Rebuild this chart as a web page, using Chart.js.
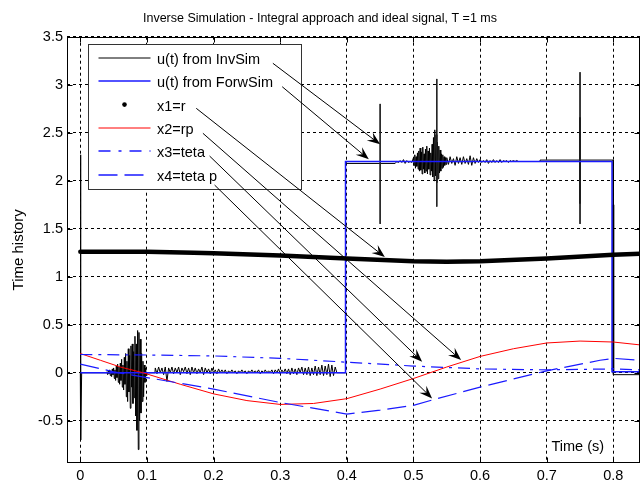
<!DOCTYPE html>
<html>
<head>
<meta charset="utf-8">
<script src="https://cdn.jsdelivr.net/npm/chart.js@4.4.0/dist/chart.umd.min.js"></script>
<style>
  html, body { margin: 0; padding: 0; background: #fff; }
  #wrap { width: 643px; height: 485px; }
</style>
</head>
<body>
<div id="wrap"><canvas id="c"></canvas></div>
<script>
// ---- ticks ----
const xTicks = [0, 0.1, 0.2, 0.3, 0.4, 0.5, 0.6, 0.7, 0.8];
const yTicks = [-0.5, 0, 0.5, 1, 1.5, 2, 2.5, 3, 3.5];

// ---- u(t) from ForwSim ----
const forwT = [0, 0.398, 0.398, 0.798, 0.798, 0.84];
const forwU = [0, 0, 2.2, 2.2, 0.01, 0.01];

// ---- u(t) from InvSim: опорные точки + шум с равным шагом ----
const invHeadT = [0, 0, 0.001, 0.002, 0.039];
const invHeadU = [0, 2.27, -0.7, 0, 0];

const burst1T0 = 0.04, burst1Dt = 0.001;
const burst1U = [
  0.01, -0.02, 0.02, -0.01, 0.03, -0.03, 0.02, -0.04, 0.04, -0.02,
  0.05, -0.06, 0.03, -0.08, 0.07, -0.05, 0.09, -0.10, 0.06, -0.12,
  0.10, -0.08, 0.14, -0.15, 0.08, -0.18, 0.16, -0.12, 0.20, -0.25,
  0.12, -0.30, 0.25, -0.20, 0.18, -0.37, 0.28, -0.15, 0.30, -0.32,
  0.22, -0.26, 0.38, -0.45, 0.30, -0.60, 0.44, -0.80, 0.42, -0.50,
  0.35, -0.42, 0.20, -0.30, 0.12, -0.25, 0.08, -0.10, 0.05, -0.03,
  0
];

const invGapT = [0.112];
const invGapU = [0];

const noise1T0 = 0.1125, noise1Dt = 0.0025;
const noise1U = [
  0.05, -0.01, 0.06, 0.00, 0.05, -0.02, 0.06, -0.09, 0.05, 0.00,
  0.06, -0.01, 0.05, 0.00, 0.06, -0.02, 0.05, 0.01, 0.06, -0.01,
  0.05, -0.02, 0.06, 0.00, 0.05, -0.01, 0.04, 0.00, 0.06, -0.02,
  0.05, 0.00, 0.04, -0.01, 0.05, 0.00, 0.03, -0.01, 0.04, 0.00,
  0.03, 0.00, 0.03, -0.01, 0.02, 0.00, 0.03, 0.00, 0.02, -0.01,
  0.02, 0.00, 0.03, 0.00, 0.02, -0.01, 0.02, 0.00, 0.03, 0.00,
  0.02, 0.00, 0.03, -0.01, 0.02, 0.00, 0.03, 0.00, 0.02, 0.00,
  0.03, -0.01, 0.03, 0.00, 0.04, -0.01, 0.03, 0.00, 0.04, -0.01,
  0.04, -0.02, 0.05, -0.01, 0.04, -0.02, 0.05, 0.00, 0.06, -0.02,
  0.05, -0.02, 0.06, -0.03, 0.05, -0.02, 0.07, -0.03, 0.06, -0.02,
  0.08, -0.03, 0.07, -0.02, 0.09, -0.04, 0.08, -0.03, 0.06, 0.00
];

const invMidT = [0.3875, 0.398, 0.398, 0.4, 0.4725];
const invMidU = [0, 0, 2.2, 2.18, 2.18];

const noise2T0 = 0.475, noise2Dt = 0.0025;
const noise2U = [2.20, 2.19, 2.21, 2.19, 2.22, 2.18, 2.21, 2.19, 2.20, 2.19];

const burst2T0 = 0.5, burst2Dt = 0.001;
const burst2U = [
  2.24, 2.16, 2.27, 2.13, 2.25, 2.15, 2.29, 2.12, 2.31, 2.10,
  2.34, 2.11, 2.30, 2.07, 2.35, 2.12, 2.28, 2.08, 2.33, 2.10,
  2.36, 2.07, 2.31, 2.12, 2.34, 2.06, 2.29, 2.10, 2.38, 2.04,
  2.45, 2.00, 2.53, 2.05, 2.48, 1.98, 2.40, 2.02, 2.36, 2.08,
  2.32, 2.10, 2.28, 2.13, 2.27, 2.14, 2.25, 2.16, 2.24, 2.17
];

const noise3T0 = 0.55, noise3Dt = 0.0025;
const noise3U = [
  2.24, 2.17, 2.25, 2.18, 2.23, 2.16, 2.25, 2.18, 2.24, 2.17,
  2.25, 2.18, 2.23, 2.17, 2.26, 2.16, 2.24, 2.18, 2.23, 2.19,
  2.22, 2.19, 2.21, 2.19, 2.22, 2.18, 2.21, 2.19, 2.22, 2.19,
  2.21, 2.19, 2.22, 2.19, 2.21, 2.20, 2.21, 2.19, 2.21, 2.20,
  2.21, 2.20, 2.21, 2.20, 2.20
];

const invTailT = [0.69, 0.69, 0.7995, 0.8, 0.84];
const invTailU = [2.2, 2.215, 2.215, -0.02, -0.02];

// одиночные выбросы InvSim (вертикальные штрихи)
const spikeT  = [0.45, 0.535, 0.75];
const spikeHi = [2.8, 3.06, 3.13];
const spikeLo = [1.55, 1.73, 1.55];
const boldSpikeT  = [0.75, 0.8];
const boldSpikeHi = [2.66, 1.75];
const boldSpikeLo = [1.76, 0.0];

// ---- состояния ----
const x1T = [0, 0.1, 0.17, 0.2, 0.3, 0.4, 0.5, 0.55, 0.6, 0.7, 0.8, 0.84];
const x1  = [1.26, 1.26, 1.25, 1.245, 1.22, 1.19, 1.16, 1.155, 1.16, 1.19, 1.23, 1.24];

const x2T = [0, 0.03, 0.06, 0.094, 0.15, 0.2, 0.25, 0.3, 0.35, 0.4, 0.45, 0.5, 0.55, 0.6, 0.65, 0.7, 0.75, 0.8, 0.84];
const x2  = [0.2, 0.13, 0.06, 0.0, -0.12, -0.22, -0.29, -0.33, -0.32, -0.27, -0.17, -0.06, 0.06, 0.17, 0.25, 0.31, 0.33, 0.32, 0.29];

const x3T = [0, 0.1, 0.2, 0.3, 0.4, 0.5, 0.6, 0.7, 0.8, 0.84];
const x3  = [0.19, 0.185, 0.175, 0.15, 0.11, 0.07, 0.04, 0.03, 0.04, 0.03];

const x4T = [0, 0.05, 0.1, 0.2, 0.3, 0.4, 0.45, 0.5, 0.53, 0.6, 0.7, 0.78, 0.8, 0.84];
const x4  = [0.09, 0.01, -0.05, -0.17, -0.31, -0.43, -0.39, -0.34, -0.28, -0.15, 0.02, 0.13, 0.15, 0.13];

// ---- стрелки-аннотации (в единицах осей) ----
const arrowTailT = [0.289, 0.303, 0.174, 0.184, 0.194, 0.2015];
const arrowTailY = [3.223, 2.979, 2.754, 2.494, 2.257, 1.955];
const arrowTipT  = [0.450, 0.433, 0.457, 0.5715, 0.513, 0.528];
const arrowTipY  = [2.379, 2.223, 1.205, 0.132, 0.115, -0.267];

const FONT = "'Liberation Sans', Arial, sans-serif";
const BLUE = '#1a1aff';

const pts = (ts, ys) => ts.map((t, i) => ({ x: t, y: ys[i] }));
const sampled = (t0, dt, ys) => ys.map((y, i) => ({ x: t0 + i * dt, y }));
const bars = (ts, hi, lo) => ts.flatMap((t, i) => [{ x: t, y: hi[i] }, { x: t, y: lo[i] }, { x: t, y: null }]);

const invData = [
  ...pts(invHeadT, invHeadU),
  ...sampled(burst1T0, burst1Dt, burst1U),
  ...pts(invGapT, invGapU),
  ...sampled(noise1T0, noise1Dt, noise1U),
  ...pts(invMidT, invMidU),
  ...sampled(noise2T0, noise2Dt, noise2U),
  ...sampled(burst2T0, burst2Dt, burst2U),
  ...sampled(noise3T0, noise3Dt, noise3U),
  ...pts(invTailT, invTailU)
];

const line = (extra) => Object.assign({
  showLine: true, pointRadius: 0, borderWidth: 1, tension: 0, spanGaps: false, fill: false
}, extra);

// рамка, засечки, легенда, стрелки, подпись оси
const decor = {
  id: 'decor',
  afterDatasetsDraw(chart) {
    const { ctx, chartArea: a, scales: { x, y } } = chart;
    const L = Math.round(a.left) + 0.5, R = Math.round(a.right) - 0.5;
    const T = Math.round(a.top) + 0.5, B = Math.round(a.bottom) - 0.5;
    ctx.save();
    ctx.strokeStyle = '#000';
    ctx.lineWidth = 1;
    ctx.setLineDash([]);
    ctx.strokeRect(L, T, R - L, B - T);

    ctx.beginPath();
    xTicks.forEach(v => {
      const px = Math.round(x.getPixelForValue(v)) + 0.5;
      ctx.moveTo(px, B); ctx.lineTo(px, B - 5);
      ctx.moveTo(px, T); ctx.lineTo(px, T + 5);
    });
    yTicks.forEach(v => {
      const py = Math.round(y.getPixelForValue(v)) + 0.5;
      ctx.moveTo(L, py); ctx.lineTo(L + 5, py);
      ctx.moveTo(R, py); ctx.lineTo(R - 5, py);
    });
    ctx.stroke();

    // легенда
    const bx = L + 21, by = T + 7, bw = 213, bh = 145;
    ctx.fillStyle = '#fff';
    ctx.fillRect(bx, by, bw, bh);
    ctx.strokeStyle = '#333';
    ctx.strokeRect(bx, by, bw, bh);
    ctx.font = '14.5px ' + FONT;
    ctx.textBaseline = 'middle';
    ctx.textAlign = 'left';
    chart.data.datasets.filter(d => d.legendRow !== undefined).forEach(d => {
      const ry = by + 15 + d.legendRow * 23.3;
      if (d.legendDot) {
        ctx.fillStyle = '#000';
        ctx.beginPath();
        ctx.arc(bx + 36, ry - 1.5, 2.3, 0, Math.PI * 2);
        ctx.fill();
      } else {
        ctx.strokeStyle = d.borderColor;
        ctx.lineWidth = d.borderColor === BLUE ? 1.5 : 1;
        ctx.setLineDash(d.legendDash || []);
        ctx.beginPath();
        ctx.moveTo(bx + 10, Math.round(ry - 1.5));
        ctx.lineTo(bx + 62, Math.round(ry - 1.5));
        ctx.stroke();
        ctx.setLineDash([]);
      }
      ctx.fillStyle = '#000';
      ctx.fillText(d.label, bx + 68.5, ry + 0.5);
    });

    // стрелки
    ctx.strokeStyle = '#000';
    ctx.fillStyle = '#000';
    ctx.lineWidth = 1;
    arrowTailT.forEach((t, i) => {
      const x0 = x.getPixelForValue(t), y0 = y.getPixelForValue(arrowTailY[i]);
      const x1p = x.getPixelForValue(arrowTipT[i]), y1p = y.getPixelForValue(arrowTipY[i]);
      const ang = Math.atan2(y1p - y0, x1p - x0);
      const hl = 13, hw = 5;
      ctx.beginPath();
      ctx.moveTo(x0, y0);
      ctx.lineTo(x1p - Math.cos(ang) * hl * 0.6, y1p - Math.sin(ang) * hl * 0.6);
      ctx.stroke();
      ctx.save();
      ctx.translate(x1p, y1p);
      ctx.rotate(ang);
      ctx.beginPath();
      ctx.moveTo(0, 0);
      ctx.lineTo(-hl, -hw);
      ctx.lineTo(-hl * 0.62, 0);
      ctx.lineTo(-hl, hw);
      ctx.closePath();
      ctx.fill();
      ctx.restore();
    });

    // подпись оси X внутри поля
    ctx.font = '14.5px ' + FONT;
    ctx.fillStyle = '#000';
    ctx.textAlign = 'left';
    ctx.textBaseline = 'middle';
    ctx.fillText('Time (s)', a.right - 88.5, a.bottom - 16);
    ctx.restore();
  }
};

new Chart(document.getElementById('c').getContext('2d'), {
  type: 'scatter',
  data: {
    datasets: [
      line({ label: 'x4=teta p', data: pts(x4T, x4), borderColor: BLUE, borderWidth: 1.2, borderDash: [19, 7], legendDash: [19, 7], legendRow: 5, order: 1 }),
      line({ label: 'x3=teta', data: pts(x3T, x3), borderColor: BLUE, borderWidth: 1.2, borderDash: [12, 6, 3, 6], legendDash: [12, 8, 3, 8], legendRow: 4, order: 2 }),
      line({ label: 'x2=rp', data: pts(x2T, x2), borderColor: '#ff0000', legendRow: 3, order: 3 }),
      line({ label: 'x1=r', data: pts(x1T, x1), borderColor: '#000', borderWidth: 4.5, borderCapStyle: 'round', legendDot: true, legendRow: 2, order: 4 }),
      line({ label: 'u(t) from ForwSim', data: pts(forwT, forwU), borderColor: BLUE, borderWidth: 1.5, legendRow: 1, order: 5 }),
      line({ label: 'spikes', data: bars(spikeT, spikeHi, spikeLo), borderColor: '#222', order: 6 }),
      line({ label: 'spikes bold', data: bars(boldSpikeT, boldSpikeHi, boldSpikeLo), borderColor: '#000', borderWidth: 2, order: 6 }),
      line({ label: 'u(t) from InvSim', data: invData, borderColor: '#000', legendRow: 0, order: 7 })
    ]
  },
  options: {
    responsive: true,
    maintainAspectRatio: false,
    animation: false,
    events: [],
    layout: { padding: { left: 0, right: 3, top: 0, bottom: 0 } },
    plugins: {
      legend: { display: false },
      tooltip: { enabled: false },
      title: {
        display: true,
        text: 'Inverse Simulation - Integral approach and ideal signal, T =1 ms',
        color: '#000',
        font: { family: FONT, size: 12.5, weight: 'normal' },
        padding: { top: 11.5, bottom: 10.2 }
      }
    },
    scales: {
      x: {
        type: 'linear',
        min: -0.02, max: 0.84,
        afterBuildTicks: s => { s.ticks = xTicks.map(v => ({ value: v })); },
        afterFit: s => { s.height = 22; },
        grid: { color: '#000', lineWidth: 1, drawTicks: false },
        border: { display: false, dash: [3, 3] },
        ticks: { color: '#000', padding: 4, autoSkip: false, maxRotation: 0, font: { family: FONT, size: 14.5 }, callback: v => String(v) }
      },
      y: {
        type: 'linear',
        min: -0.94, max: 3.5,
        afterBuildTicks: s => { s.ticks = yTicks.map(v => ({ value: v })); },
        afterFit: s => { s.width = 67; },
        grid: { color: '#000', lineWidth: 1, drawTicks: false },
        border: { display: false, dash: [3, 3] },
        ticks: { color: '#000', padding: 4, font: { family: FONT, size: 14.5 }, callback: v => String(v) },
        title: { display: true, text: 'Time history', color: '#000', font: { family: FONT, size: 15 }, padding: { top: 9.5, bottom: 0 } }
      }
    }
  },
  plugins: [decor]
});
</script>
</body>
</html>
